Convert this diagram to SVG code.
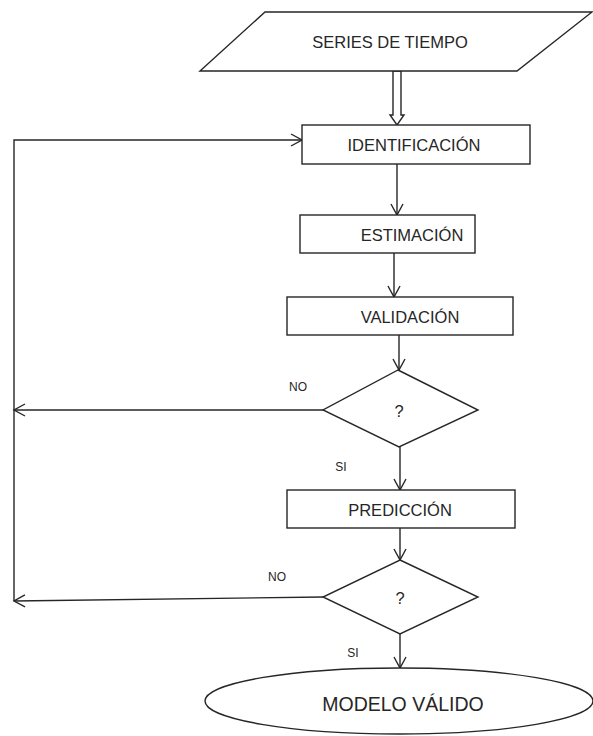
<svg xmlns="http://www.w3.org/2000/svg" width="593" height="736" viewBox="0 0 593 736">
<style>
.s{fill:#fff;stroke:#262626;stroke-width:1.4}
.c{fill:none;stroke:#262626;stroke-width:1.4}
.t{font-family:"Liberation Sans",Arial,sans-serif;font-size:16.5px;fill:#262626;text-anchor:middle;dominant-baseline:central}
.l{font-family:"Liberation Sans",Arial,sans-serif;font-size:12px;fill:#262626;text-anchor:middle;dominant-baseline:central}
</style>
<defs>
<marker id="a" markerUnits="userSpaceOnUse" markerWidth="14" markerHeight="14" refX="11" refY="6" orient="auto" overflow="visible">
<path d="M0,0 L11,6 L0,12" fill="none" stroke="#262626" stroke-width="1.4"/>
</marker>
</defs>
<rect width="593" height="736" fill="#fff"/>
<g id="connectors">
<polygon class="s" points="393,71 393,115 390,115 397,125 404,115 401,115 401,71"/>
<line class="c" x1="397" y1="164" x2="397" y2="215" marker-end="url(#a)"/>
<line class="c" x1="394" y1="253" x2="394" y2="297" marker-end="url(#a)"/>
<line class="c" x1="399" y1="335" x2="399" y2="370" marker-end="url(#a)"/>
<line class="c" x1="400" y1="447" x2="400" y2="490" marker-end="url(#a)"/>
<line class="c" x1="400" y1="528" x2="400" y2="560" marker-end="url(#a)"/>
<line class="c" x1="400" y1="634" x2="400" y2="668" marker-end="url(#a)"/>
<line class="c" x1="323" y1="410" x2="14" y2="410" marker-end="url(#a)"/>
<line class="c" x1="323" y1="597" x2="14" y2="601" marker-end="url(#a)"/>
<polyline class="c" points="14,601 14,140 302,140" marker-end="url(#a)"/>
<text class="l" x="298" y="387">NO</text>
<text class="l" x="341" y="467">SI</text>
<text class="l" x="277" y="577">NO</text>
<text class="l" x="353" y="653">SI</text>
</g>
<g id="series">
<polygon class="s" points="265,12 592,12 517,71 200,71"/>
<text class="t" x="390" y="42">SERIES DE TIEMPO</text>
</g>
<g id="identificacion">
<rect class="s" x="302" y="125" width="228" height="39"/>
<text class="t" x="414" y="145">IDENTIFICACIÓN</text>
</g>
<g id="estimacion">
<rect class="s" x="300" y="215" width="175" height="38"/>
<text class="t" x="412" y="235">ESTIMACIÓN</text>
</g>
<g id="validacion">
<rect class="s" x="287" y="297" width="226" height="38"/>
<text class="t" x="410" y="317">VALIDACIÓN</text>
</g>
<g id="decision1">
<polygon class="s" points="398,370 478,410 399,447 323,410"/>
<text class="t" x="399" y="411">?</text>
</g>
<g id="prediccion">
<rect class="s" x="287" y="490" width="228" height="38"/>
<text class="t" x="400" y="510">PREDICCIÓN</text>
</g>
<g id="decision2">
<polygon class="s" points="400,560 478,597 400,634 323,597"/>
<text class="t" x="400" y="598">?</text>
</g>
<g id="modelo">
<ellipse class="s" cx="399" cy="701" rx="194" ry="33"/>
<text class="t" x="403" y="704" style="font-size:19.5px">MODELO VÁLIDO</text>
</g>
</svg>
